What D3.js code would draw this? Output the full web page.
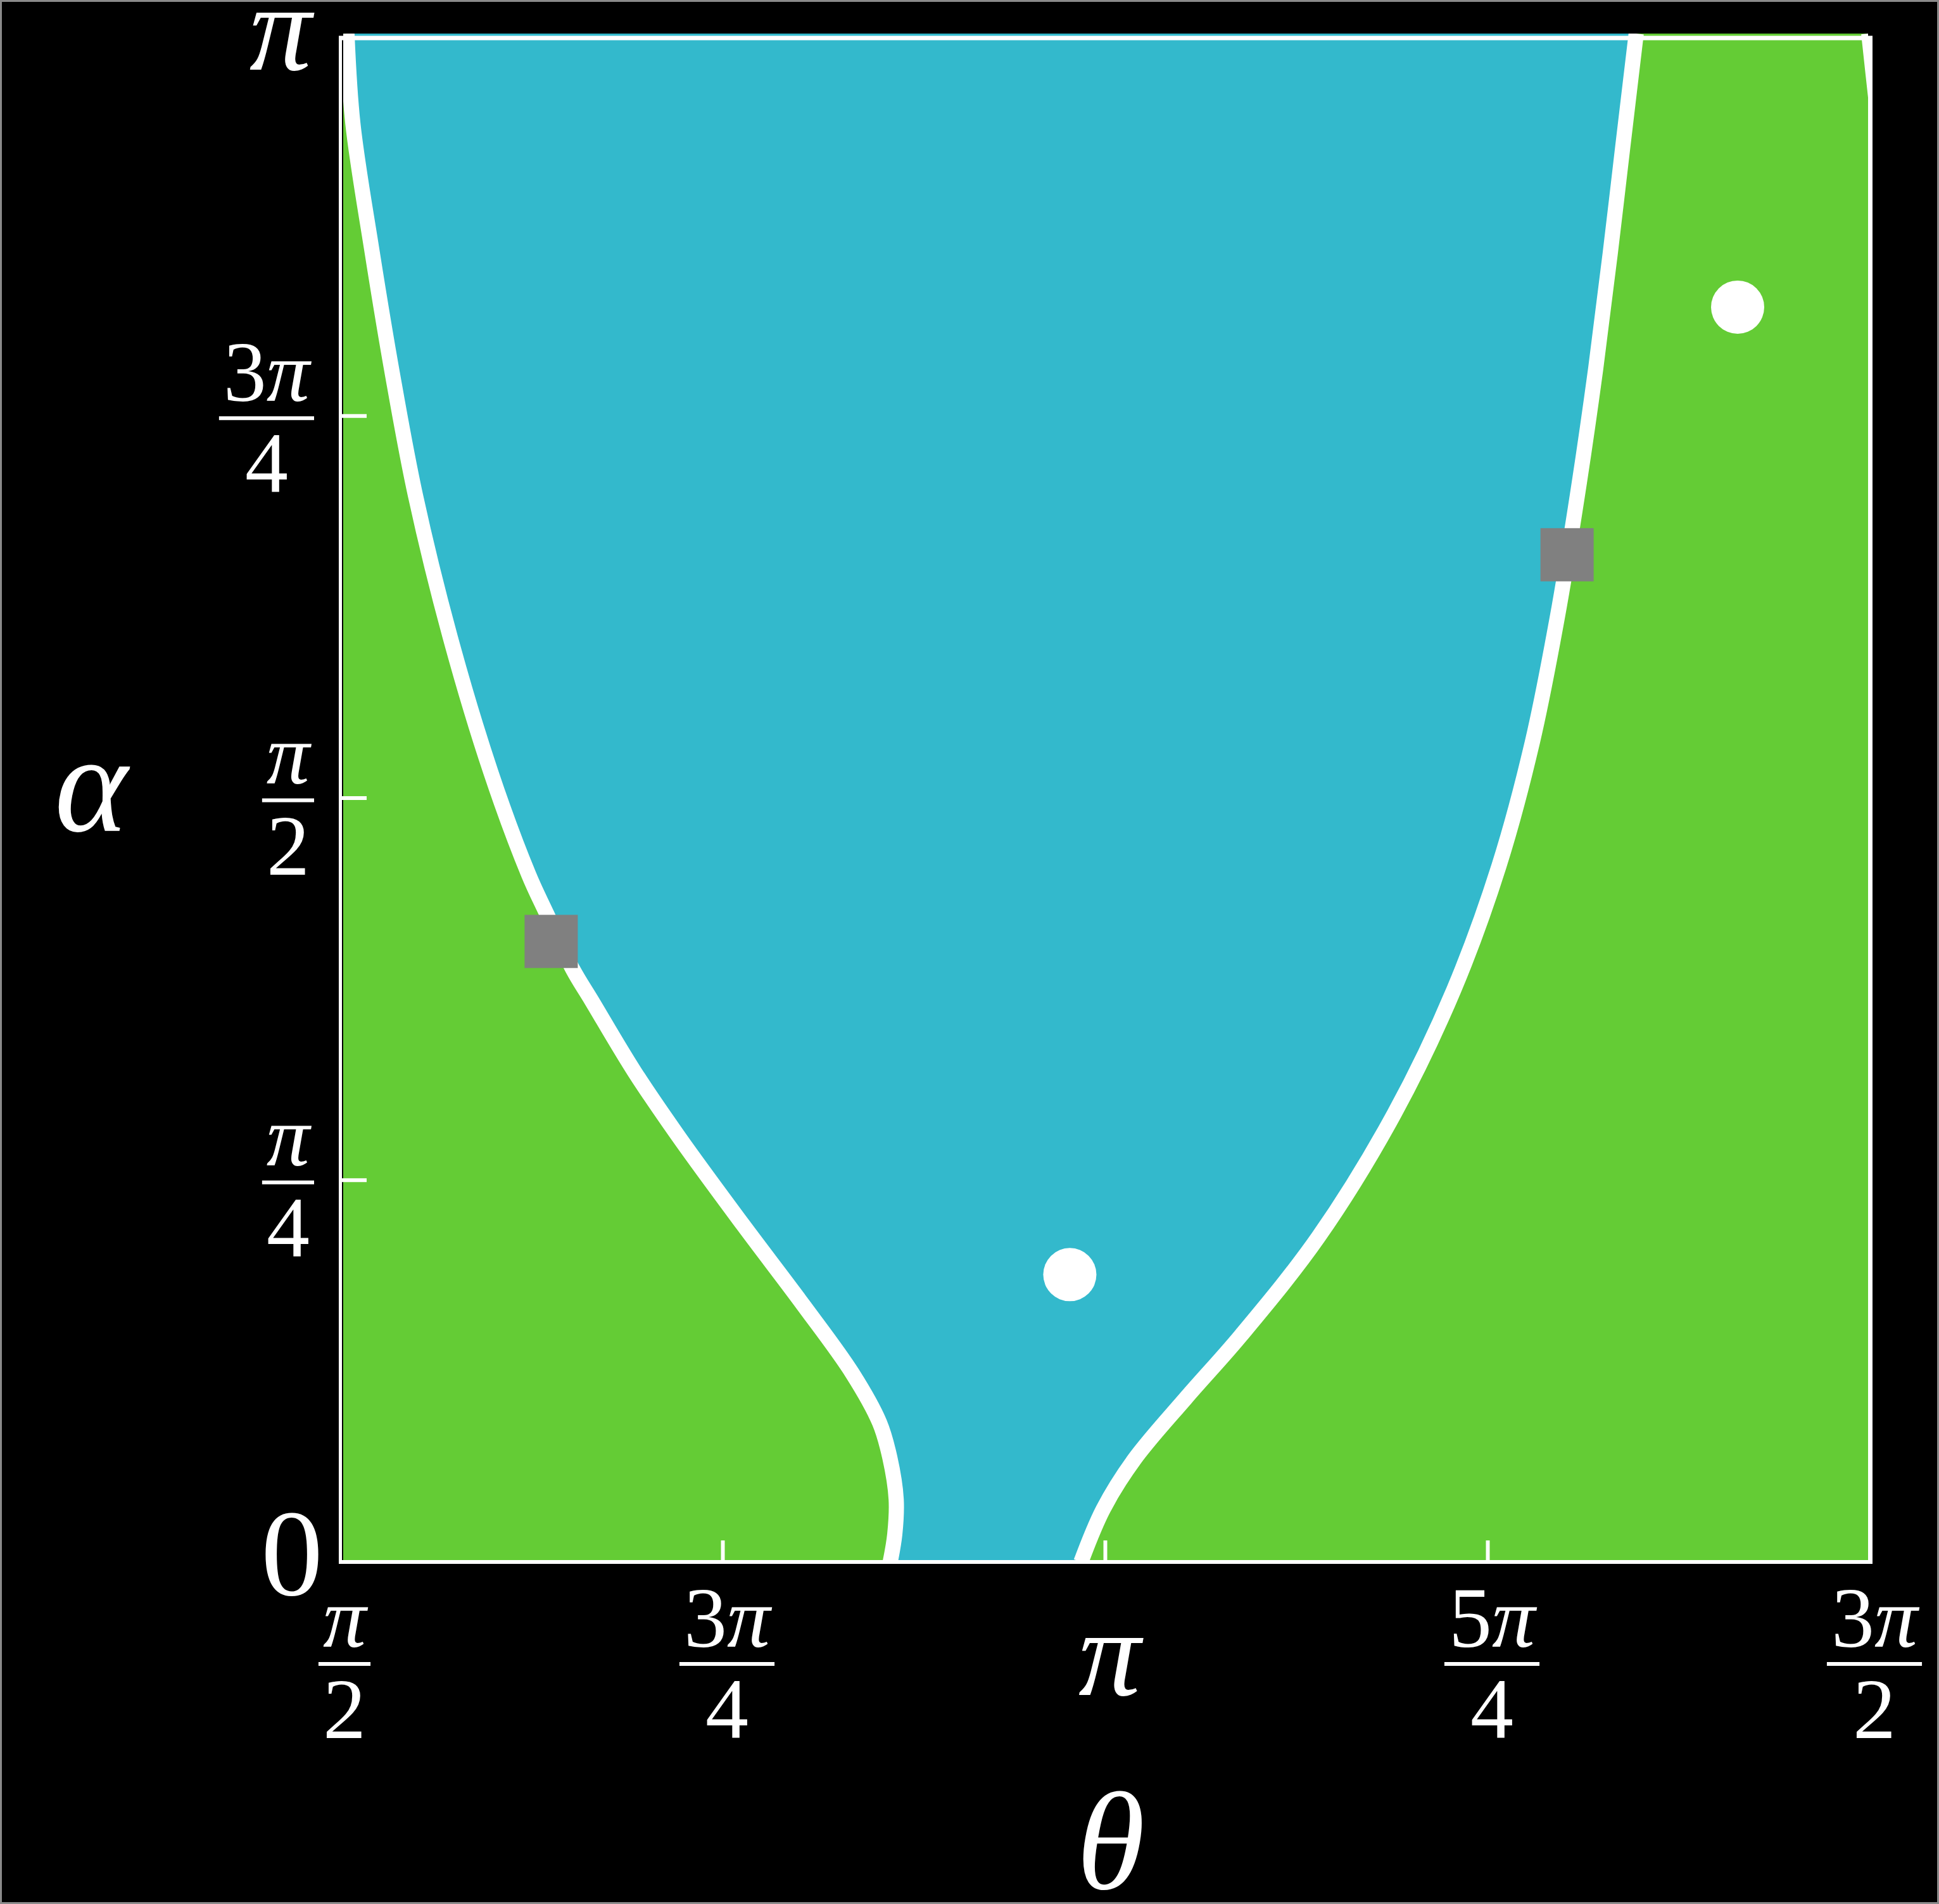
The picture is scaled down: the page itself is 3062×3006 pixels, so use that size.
<!DOCTYPE html>
<html><head><meta charset="utf-8">
<script src="https://cdn.jsdelivr.net/npm/d3@7"></script>
<style>html,body{margin:0;padding:0;background:#000;} svg{display:block;}</style>
</head><body>
<script>
// ---- data (angles in units of π) ----
const thetaTicks = [0.5, 0.75, 1, 1.25, 1.5];
const thetaTickNum = ["π", "3π", "π", "5π", "3π"];
const thetaTickDen = ["2", "4", "", "4", "2"];
const alphaTicks = [0, 0.25, 0.5, 0.75, 1];
const alphaTickNum = ["0", "π", "π", "3π", "π"];
const alphaTickDen = ["", "4", "2", "4", ""];

const leftTheta = [0.5045, 0.5084, 0.5205, 0.5339, 0.5492, 0.5720, 0.5985, 0.6233, 0.6352, 0.6519, 0.6645, 0.6923, 0.7220, 0.7633, 0.8028, 0.8348, 0.8526, 0.8593, 0.8635, 0.8626, 0.8596];
const leftAlpha = [1.0000, 0.9410, 0.8601, 0.7792, 0.6982, 0.6051, 0.5169, 0.4497, 0.4238, 0.3882, 0.3672, 0.3210, 0.2773, 0.2207, 0.1681, 0.1235, 0.0912, 0.0685, 0.0410, 0.0183, 0.0000];

const rightTheta = [1.3472, 1.3383, 1.3302, 1.3205, 1.3088, 1.2955, 1.2793, 1.2575, 1.2280, 1.1892, 1.1394, 1.0885, 1.0530, 1.0190, 0.9988, 0.9843];
const rightAlpha = [1.0000, 0.9249, 0.8560, 0.7791, 0.6982, 0.6173, 0.5363, 0.4554, 0.3744, 0.2935, 0.2125, 0.1478, 0.1074, 0.0669, 0.0345, 0.0000];

const cornerTheta = [1.4992, 1.5037, 1.5116];
const cornerAlpha = [1.000, 0.9586, 0.889];

const circleTheta = [0.977, 1.4135];
const circleAlpha = [0.188, 0.821];
const squareTheta = [0.638, 1.302];
const squareAlpha = [0.406, 0.659];

const xLabel = "θ";
const yLabel = "α";

// ---- layout ----
const W = 3062, H = 3006;
const PI = Math.PI;
const cyan = "#33b9cc", green = "#64cc35", gray = "#808080";

const x = d3.scaleLinear().domain([0.5 * PI, 1.5 * PI]).range([537, 2953]);
const y = d3.scaleLinear().domain([0, PI]).range([2466, 53]);

const svg = d3.select("body").append("svg").attr("width", W).attr("height", H)
  .attr("font-family", "'Liberation Serif', 'DejaVu Serif', serif");

svg.append("rect").attr("x", 0).attr("y", 0).attr("width", W).attr("height", H).attr("fill", "#000");
svg.append("rect").attr("x", 1.5).attr("y", 1.5).attr("width", W - 3).attr("height", H - 3)
  .attr("fill", "none").attr("stroke", "#8a8a8a").attr("stroke-width", 3);

const x0 = x(0.5 * PI), x1 = x(1.5 * PI), yb = y(0), yt = y(PI);

svg.append("defs").append("clipPath").attr("id", "plotclip").append("rect")
  .attr("x", x0 + 5).attr("y", yt).attr("width", (x1 - 3) - (x0 + 5)).attr("height", (yb - 3) - yt);

const zip = (th, al) => th.map((t, i) => [t * PI, al[i] * PI]);
const leftPts = zip(leftTheta, leftAlpha);
const rightPts = zip(rightTheta, rightAlpha);
const cornerPts = zip(cornerTheta, cornerAlpha);

const line = d3.line().x(d => x(d[0])).y(d => y(d[1])).curve(d3.curveCatmullRom.alpha(0.5));

const plot = svg.append("g").attr("clip-path", "url(#plotclip)");
plot.append("rect").attr("x", x0).attr("y", yt).attr("width", x1 - x0).attr("height", yb - yt).attr("fill", cyan);
plot.append("path").attr("d", line(leftPts) + `L${x0 - 10},${yb}L${x0 - 10},${yt}Z`).attr("fill", green);
plot.append("path").attr("d", line(rightPts) + `L${x1 + 10},${yb}L${x1 + 10},${yt}Z`).attr("fill", green);
[leftPts, rightPts, cornerPts].forEach(p => {
  plot.append("path").attr("d", line(p)).attr("fill", "none").attr("stroke", "#fff").attr("stroke-width", 24);
});

// frame
const frame = svg.append("g").attr("stroke", "#fff");
frame.append("line").attr("x1", x0 - 2).attr("x2", x1 + 4).attr("y1", yt + 7).attr("y2", yt + 7).attr("stroke-width", 7);
frame.append("line").attr("x1", x0 + 0.5).attr("x2", x0 + 0.5).attr("y1", yt + 4).attr("y2", yb + 3).attr("stroke-width", 5);
frame.append("line").attr("x1", x0 - 2).attr("x2", x1 + 4).attr("y1", yb).attr("y2", yb).attr("stroke-width", 6);
frame.append("line").attr("x1", x1 + 0.5).attr("x2", x1 + 0.5).attr("y1", yt + 4).attr("y2", yb + 3).attr("stroke-width", 7);

// ticks via axes
const yAxis = d3.axisRight(y).tickValues(alphaTicks.slice(1, -1).map(v => v * PI)).tickSize(42).tickFormat("");
const gy = svg.append("g").attr("transform", `translate(${x0},0)`).call(yAxis);
const xAxis = d3.axisTop(x).tickValues(thetaTicks.slice(1, -1).map(v => v * PI)).tickSize(34).tickFormat("");
const gx = svg.append("g").attr("transform", `translate(0,${yb})`).call(xAxis);
[gy, gx].forEach(g => {
  g.select(".domain").remove();
  g.selectAll(".tick line").attr("stroke", "#fff").attr("stroke-width", 6);
});

// markers
svg.append("g").selectAll("circle").data(zip(circleTheta, circleAlpha)).join("circle")
  .attr("cx", d => x(d[0])).attr("cy", d => y(d[1])).attr("r", 42).attr("fill", "#fff");
svg.append("g").selectAll("rect").data(zip(squareTheta, squareAlpha)).join("rect")
  .attr("x", d => x(d[0]) - 42).attr("y", d => y(d[1]) - 42).attr("width", 84).attr("height", 84).attr("fill", gray);

// labels
function mathText(t, str) {
  for (const ch of str) {
    t.append("tspan").text(ch).attr("font-style", (ch === "π" || ch === "α" || ch === "θ") ? "italic" : "normal");
  }
}
const FR = 136, MAIN = 196, TITLE = 220;
function fraction(num, den, anchorX, barY, align) {
  const g = svg.append("g").attr("fill", "#fff");
  const n = g.append("text").attr("x", 0).attr("y", -27).attr("text-anchor", "middle").attr("font-size", FR);
  mathText(n, num);
  const d = g.append("text").attr("x", 0).attr("y", 117).attr("text-anchor", "middle").attr("font-size", FR);
  mathText(d, den);
  const w = Math.max(n.node().getComputedTextLength(), d.node().getComputedTextLength()) + 14;
  g.append("rect").attr("x", -w / 2).attr("y", -3).attr("width", w).attr("height", 6);
  const cx = align === "end" ? anchorX - w / 2 : anchorX;
  g.attr("transform", `translate(${cx},${barY})`);
}
alphaTicks.forEach((v, i) => {
  const ty = y(v * PI);
  if (alphaTickDen[i]) {
    fraction(alphaTickNum[i], alphaTickDen[i], 496, ty + 4, "end");
  } else {
    const isPi = alphaTickNum[i] === "π";
    const t = svg.append("text").attr("x", isPi ? 492 : 510).attr("y", ty + (isPi ? 57 : 52)).attr("text-anchor", "end")
      .attr("font-size", MAIN).attr("fill", "#fff");
    mathText(t, alphaTickNum[i]);
  }
});
thetaTicks.forEach((v, i) => {
  const tx = x(v * PI) + 7;
  if (thetaTickDen[i]) {
    fraction(thetaTickNum[i], thetaTickDen[i], tx, yb + 161, "middle");
  } else {
    const t = svg.append("text").attr("x", tx).attr("y", yb + 210).attr("text-anchor", "middle")
      .attr("font-size", MAIN).attr("fill", "#fff");
    mathText(t, thetaTickNum[i]);
  }
});

const ta = svg.append("text").attr("x", 144).attr("y", y(0.5 * PI) + 52).attr("text-anchor", "middle")
  .attr("font-size", TITLE).attr("fill", "#fff");
mathText(ta, yLabel);
const tt = svg.append("text").attr("x", x(PI) + 9).attr("y", 2982).attr("text-anchor", "middle")
  .attr("font-size", TITLE).attr("fill", "#fff");
mathText(tt, xLabel);
</script>
</body></html>
